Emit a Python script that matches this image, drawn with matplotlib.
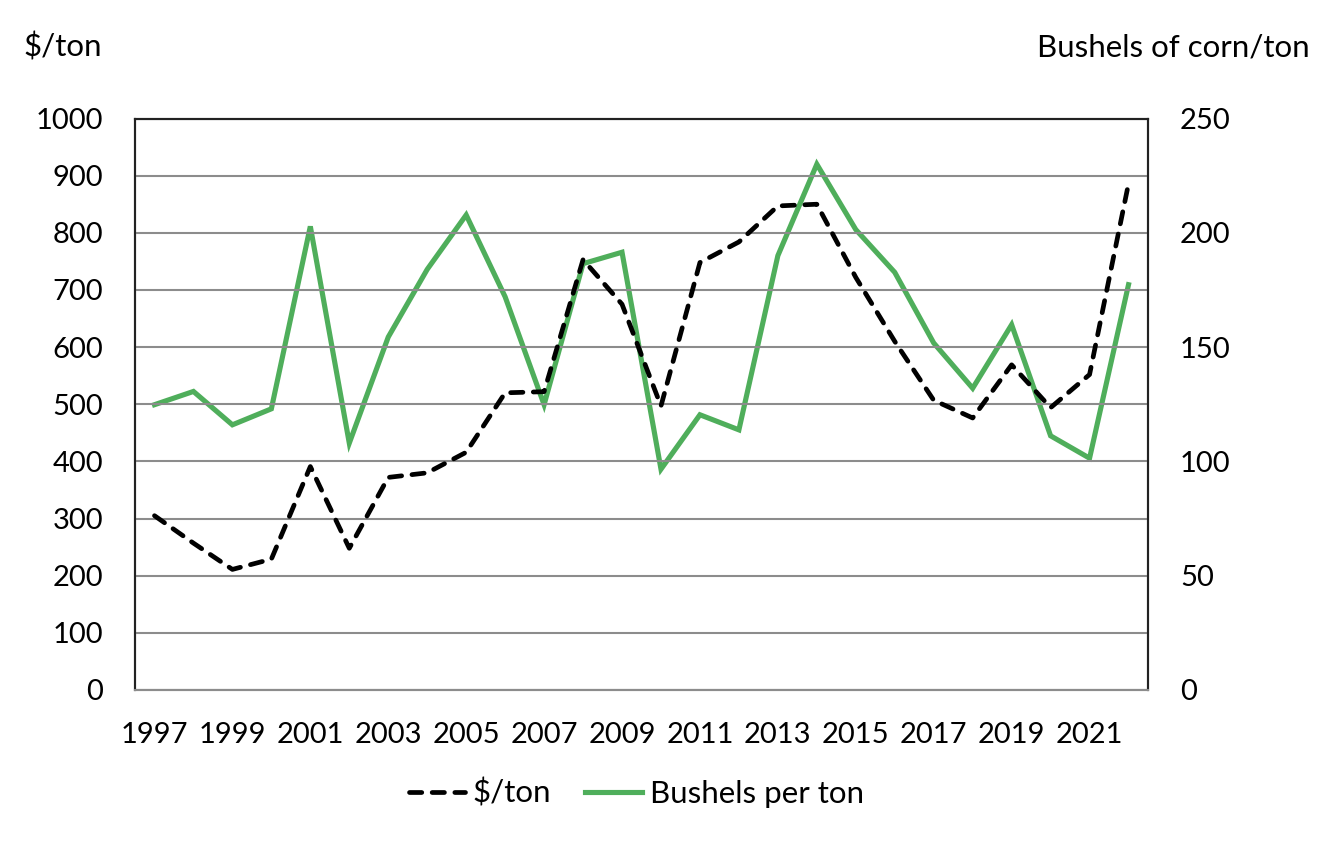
import matplotlib
matplotlib.use("Agg")
import matplotlib.pyplot as plt
import numpy as np

plt.rcParams["font.family"] = ["Lato", "DejaVu Sans"]

years = list(range(1997, 2023))
dollars_per_ton = [305, 257, 211, 229, 391, 248, 372, 380, 416, 520, 522, 753, 675, 497,
                   748, 784, 847, 850, 722, 610, 507, 476, 569, 494, 552, 886]
bushels_per_ton = [124.8, 130.6, 116, 123, 202.8, 108, 154.4, 184, 207.8, 172, 124.8, 186.5,
                   191.5, 96.6, 120.4, 113.8, 190, 230, 201.4, 182.7, 151.8, 132, 159.8,
                   111.2, 101.4, 177.3]

GREEN = "#4FAE5B"
GRID = "#8C8C8C"
FS = 21
FS_TEXT = 22.5

fig = plt.figure(figsize=(13.4, 8.64), dpi=100)
ax = fig.add_axes([135 / 1340, 1 - 690 / 864, (1148 - 135) / 1340, (690 - 118.5) / 864])
ax2 = ax.twinx()

x = np.arange(len(years))
l1, = ax.plot(x, dollars_per_ton, color="black", lw=3.4, linestyle=(0, (2.6, 2.2)),
              dash_capstyle="round", solid_joinstyle="round", label="$/ton", zorder=3)
l2, = ax2.plot(x, bushels_per_ton, color=GREEN, lw=3.7, solid_joinstyle="miter",
               label="Bushels per ton", zorder=2)

ax.set_xlim(-0.5, len(years) - 0.5)
ax.set_ylim(0, 1000)
ax2.set_ylim(0, 250)
ax.set_yticks(np.arange(0, 1001, 100))
ax2.set_yticks(np.arange(0, 251, 50))
ax.set_xticks(x[::2])
ax.set_xticklabels([str(y) for y in years[::2]])

ax.yaxis.grid(True, color=GRID, lw=1.5)
ax.set_axisbelow(True)
ax.tick_params(axis="both", length=0, labelsize=FS, pad=23)
ax2.tick_params(axis="y", length=0, labelsize=FS, pad=23)

for a in (ax, ax2):
    for side in ("top", "left", "right"):
        a.spines[side].set_color("#222222")
        a.spines[side].set_linewidth(1.5)
    a.spines["bottom"].set_color(GRID)
    a.spines["bottom"].set_linewidth(1.5)

# put the dashed series above the green one
ax.set_zorder(ax2.get_zorder() + 1)
ax.patch.set_visible(False)

fig.text(23 / 1340, 1 - 47 / 864, "$/ton", fontsize=FS_TEXT, ha="left", va="center")
fig.text(1310 / 1340, 1 - 47 / 864, "Bushels of corn/ton", fontsize=FS_TEXT,
         ha="right", va="center")

fig.legend(handles=[l1, l2], loc="center", bbox_to_anchor=(636 / 1340, 1 - 793 / 864),
           ncol=2, frameon=False, fontsize=FS_TEXT, handlelength=1.8, columnspacing=1.1,
           handletextpad=0.25)

fig.savefig("out.png", dpi=100)
